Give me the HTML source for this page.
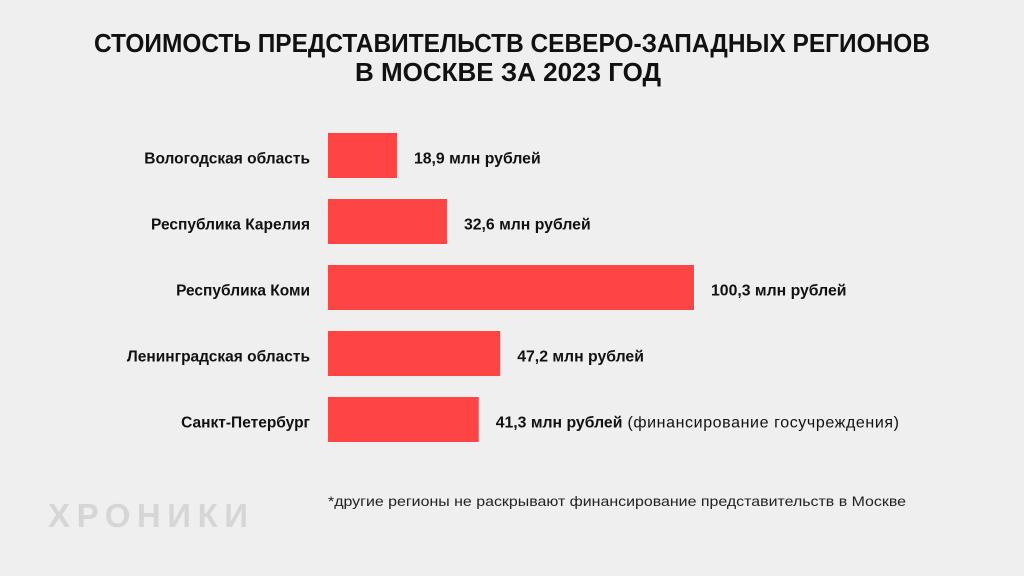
<!DOCTYPE html>
<html><head><meta charset="utf-8"><style>
html,body{margin:0;padding:0;background:#efefef;}
svg{display:block;font-family:"Liberation Sans","DejaVu Sans",sans-serif;}
</style></head><body>
<svg id="chart" width="1024" height="576" viewBox="0 0 1024 576">
<rect width="1024" height="576" fill="#efefef"/>
<text x="512" y="52" text-anchor="middle" font-size="26" font-weight="bold" fill="#111" textLength="836" lengthAdjust="spacingAndGlyphs">СТОИМОСТЬ ПРЕДСТАВИТЕЛЬСТВ СЕВЕРО-ЗАПАДНЫХ РЕГИОНОВ</text>
<text x="508" y="81" text-anchor="middle" font-size="26" font-weight="bold" fill="#111" textLength="306" lengthAdjust="spacingAndGlyphs">В МОСКВЕ ЗА 2023 ГОД</text>
<g id="bars"></g>
<text x="328" y="506" font-size="14" fill="#222" textLength="578" lengthAdjust="spacingAndGlyphs">*другие регионы не раскрывают финансирование представительств в Москве</text>
<text x="48" y="527" font-size="33" font-weight="bold" fill="#d6d6d6" textLength="200" lengthAdjust="spacing">ХРОНИКИ</text>
</svg>
<script>
const categories = ["Вологодская область","Республика Карелия","Республика Коми","Ленинградская область","Санкт-Петербург"];
const values = [18.9, 32.6, 100.3, 47.2, 41.3];
const valueLabels = ["18,9 млн рублей","32,6 млн рублей","100,3 млн рублей","47,2 млн рублей","41,3 млн рублей"];
const notes = ["","","","","(финансирование госучреждения)"];

const NS = "http://www.w3.org/2000/svg";
const g = document.getElementById("bars");
const x0 = 328, pxPerUnit = (694 - 328) / 100.3;
const xScale = v => v * pxPerUnit;
const yTop = i => 133 + i * 66;
const barH = 45;
function mk(tag, attrs) { const e = document.createElementNS(NS, tag); for (const k in attrs) e.setAttribute(k, attrs[k]); return e; }
categories.forEach((c, i) => {
  const y = yTop(i), w = xScale(values[i]);
  const r = mk("rect", {x: x0, y: y, width: w, height: barH, fill: "#ff4444"});
  
  
  g.appendChild(r);
  const lab = mk("text", {x: 310, y: y + barH/2 + 8, "text-anchor": "end", "font-size": 15.5, "font-weight": "bold", fill: "#111"});
  lab.textContent = c;
  
  
  g.appendChild(lab);
  const vl = mk("text", {x: x0 + w + 17, y: y + barH/2 + 8, "font-size": 15.8, fill: "#111"});
  const t1 = mk("tspan", {"font-weight": "bold"});
  t1.textContent = valueLabels[i];
  vl.appendChild(t1);
  if (notes[i]) { const t2 = mk("tspan", {"font-size": 16, "letter-spacing": 0.6}); t2.textContent = " " + notes[i]; vl.appendChild(t2); }
  
  
  g.appendChild(vl);
});
</script>
</body></html>
